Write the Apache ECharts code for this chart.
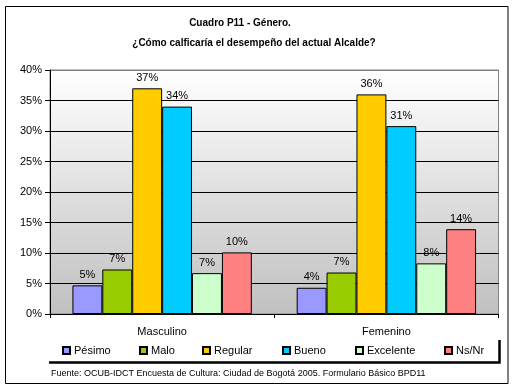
<!DOCTYPE html>
<html>
<head>
<meta charset="utf-8">
<script src="https://cdn.jsdelivr.net/npm/echarts@6/dist/echarts.min.js"></script>
<style>
html,body{margin:0;padding:0;background:#fff;}
#c{width:515px;height:391px;}
</style>
</head>
<body>
<div id="c"></div>
<script>
var categories = ['Masculino', 'Femenino'];
var seriesNames = ['Pésimo', 'Malo', 'Regular', 'Bueno', 'Excelente', 'Ns/Nr'];
var pesimo = [4.7, 4.3];
var malo = [7.3, 6.8];
var regular = [37.0, 36.0];
var bueno = [34.0, 30.8];
var excelente = [6.7, 8.3];
var nsnr = [10.1, 13.9];
var colors = ['#9999FF', '#99CC00', '#FFCC00', '#00CCFF', '#CCFFCC', '#FF8080'];
var yTicks = [0, 5, 10, 15, 20, 25, 30, 35, 40];

var values = [pesimo, malo, regular, bueno, excelente, nsnr];
var FONT = "'Liberation Sans', Arial, sans-serif";
var chart = echarts.init(document.getElementById('c'), null, {renderer: 'canvas'});

var series = seriesNames.map(function (n, i) {
  return {
    name: n,
    type: 'bar',
    data: values[i],
    barGap: '0%',
    barCategoryGap: '20%',
    itemStyle: {color: colors[i], borderColor: '#000', borderWidth: 1},
    label: {
      show: true, position: 'top', distance: 5,
      color: '#000', fontFamily: FONT, fontSize: 11,
      formatter: function (p) { return Math.round(p.value) + '%'; }
    }
  };
});

var legendLefts = [62, 139, 202, 282, 355, 444];
var legends = seriesNames.map(function (n, i) {
  return {
    data: [n],
    left: legendLefts[i],
    top: 345,
    icon: 'rect',
    itemWidth: 7,
    itemHeight: 7,
    padding: 0,
    textStyle: {fontFamily: FONT, fontSize: 11, color: '#000', padding: [0, 0, 0, -1]},
    selectedMode: false
  };
});

var splitColors = yTicks.map(function (t, i) { return i === yTicks.length - 1 ? '#808080' : '#000'; });

chart.setOption({
  animation: false,
  backgroundColor: '#fff',
  grid: {
    left: 50, top: 70, right: 16.5, bottom: 77,
    show: true,
    borderColor: '#808080', borderWidth: 1,
    backgroundColor: new echarts.graphic.LinearGradient(0, 0, 0, 1, [
      {offset: 0, color: '#FFFFFF'},
      {offset: 1, color: '#C0C0C0'}
    ])
  },
  legend: legends,
  xAxis: {
    type: 'category',
    data: categories,
    axisLine: {lineStyle: {color: '#000', width: 1}},
    axisTick: {show: true, length: 4, lineStyle: {color: '#000'}},
    axisLabel: {fontFamily: FONT, fontSize: 11, color: '#000', margin: 12}
  },
  yAxis: {
    type: 'value',
    min: yTicks[0], max: yTicks[yTicks.length - 1], interval: 5,
    axisLine: {show: true, lineStyle: {color: '#000', width: 1}},
    axisTick: {show: true, length: 5, lineStyle: {color: '#000'}},
    axisLabel: {fontFamily: FONT, fontSize: 11, color: '#000', margin: 8, formatter: '{value}%'},
    splitLine: {show: true, lineStyle: {color: splitColors, width: 1}}
  },
  series: series,
  graphic: [
    {type: 'rect', shape: {x: 5.5, y: 6.5, width: 502.5, height: 377}, style: {fill: 'none', stroke: '#000', lineWidth: 1}, silent: true, z: 100},
    {type: 'polyline', shape: {points: [[49, 362.5], [499.5, 362.5], [499.5, 340]]}, style: {fill: 'none', stroke: '#000', lineWidth: 2.5}, silent: true, z: 100},
    {type: 'text', x: 240, y: 23, style: {text: 'Cuadro P11 - Género.', font: 'bold 10px ' + FONT, fill: '#000', textAlign: 'center', textVerticalAlign: 'middle'}, z: 100},
    {type: 'text', x: 254, y: 43, style: {text: '¿Cómo calficaría el desempeño del actual Alcalde?', font: 'bold 10px ' + FONT, fill: '#000', textAlign: 'center', textVerticalAlign: 'middle'}, z: 100},
    {type: 'text', x: 51, y: 374, style: {text: 'Fuente: OCUB-IDCT Encuesta de Cultura: Ciudad de Bogotá 2005. Formulario Básico BPD11', font: '9px ' + FONT, fill: '#000', textAlign: 'left', textVerticalAlign: 'middle'}, z: 100}
  ]
});
</script>
</body>
</html>
